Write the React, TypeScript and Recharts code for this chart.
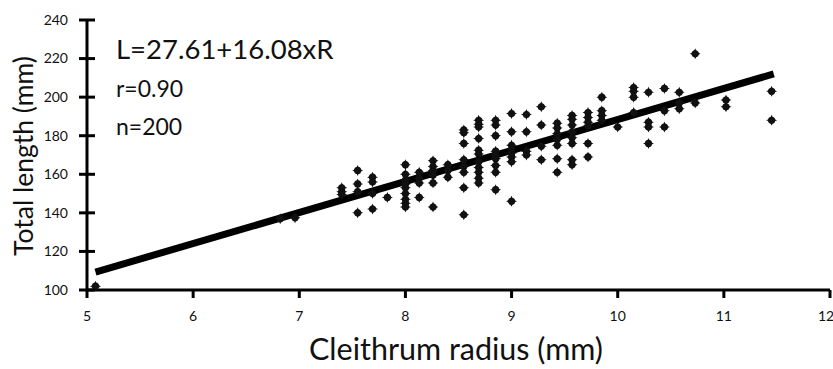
import { ReferenceLine, Scatter, ScatterChart, XAxis, YAxis } from "recharts";

// cleithrum radius columns (mm) and the total lengths (mm) read in each column
const radiusColumns = [
  5.08, 6.82, 6.96, 7.4, 7.55, 7.69, 7.83, 8.0, 8.13, 8.26, 8.4, 8.55, 8.69, 8.85, 9.0, 9.14, 9.28, 9.43,
  9.57, 9.72, 9.85, 10.0, 10.15, 10.29, 10.44, 10.58, 10.73, 11.02, 11.45,
];
const lengthsByColumn = [
  [102],
  [137],
  [137.5],
  [153, 151, 149.5],
  [162, 155, 151, 140],
  [158.5, 156, 150, 142],
  [148],
  [165, 160, 157, 155, 153, 150, 147, 145, 143],
  [161, 158, 155.5, 148],
  [167, 164, 162, 159.5, 155.5, 143],
  [165, 162, 158.5],
  [183, 181.5, 176, 167.5, 164, 161, 153, 139],
  [188, 186, 184.5, 178.5, 172.5, 170.5, 166.5, 163.5, 161, 158, 155.5],
  [188, 185.5, 180, 172, 170, 168, 164.5, 161, 152],
  [191.5, 182, 175, 173, 171, 169, 166.5, 146],
  [191, 182, 172, 170],
  [195, 185.5, 174.5, 167.5],
  [186.5, 184, 181, 178, 175, 168, 161],
  [190.5, 188.5, 185.5, 182, 179, 176, 167.5, 165],
  [192, 189.5, 187, 185, 176, 169],
  [200, 193, 190.5, 188],
  [184.5],
  [205, 203, 200, 192],
  [202.5, 187, 184.5, 176],
  [204.5, 193, 184.5],
  [202.5, 197, 194],
  [222.5, 197],
  [198.5, 195],
  [203, 188],
];

const radiusTicks = [5, 6, 7, 8, 9, 10, 11, 12];
const lengthTicks = [100, 120, 140, 160, 180, 200, 220, 240];

// regression L = a + b * R
const intercept = 27.61;
const slope = 16.08;
const fitRange = [5.08, 11.47];

const points = radiusColumns.flatMap((r, i) => lengthsByColumn[i].map((l) => ({ x: r, y: l })));
const fitSegment = fitRange.map((r) => ({ x: r, y: intercept + slope * r }));

const FONT = "Lato, 'Open Sans', sans-serif";
const INK = "#111";
const TICK_SIZE = 8;
const Y_TICK_MARGIN = 11;

function YTick(props: any) {
  const { x, y, payload } = props;
  const axisX = x + TICK_SIZE + Y_TICK_MARGIN;
  return (
    <g>
      <line x1={axisX} x2={axisX + TICK_SIZE} y1={y} y2={y} stroke="#000" strokeWidth={3} />
      <text x={x} y={y} dy="0.35em" textAnchor="end" fontSize={14} fontFamily={FONT} fill={INK}>
        {payload.value}
      </text>
    </g>
  );
}

function Dot(props: any) {
  const { cx, cy } = props;
  if (cx == null || cy == null) return null;
  const r = 5.5;
  const d = `M${cx},${cy - r} Q${cx + 1.3},${cy - 1.3} ${cx + r},${cy} Q${cx + 1.3},${cy + 1.3} ${cx},${cy + r} Q${cx - 1.3},${cy + 1.3} ${cx - r},${cy} Q${cx - 1.3},${cy - 1.3} ${cx},${cy - r}Z`;
  return (
    <g fill="#111">
      <circle cx={cx} cy={cy} r={3.6} />
      <path d={d} />
    </g>
  );
}

export default function App() {
  return (
    <div style={{ position: "absolute", left: 0, top: 0, width: 833, height: 369, background: "#fff" }}>
      <ScatterChart width={833} height={369} margin={{ top: 20, right: 3, bottom: 0, left: 0 }}>
        <XAxis
          type="number"
          dataKey="x"
          domain={[5, 12]}
          ticks={radiusTicks}
          height={79}
          allowDataOverflow
          axisLine={{ stroke: "#000", strokeWidth: 3 }}
          tickLine={{ stroke: "#000", strokeWidth: 3 }}
          tickSize={TICK_SIZE}
          tickMargin={13}
          tick={{ fontSize: 14, fontFamily: FONT, fill: INK }}
        />
        <YAxis
          type="number"
          dataKey="y"
          domain={[100, 240]}
          ticks={lengthTicks}
          width={87}
          allowDataOverflow
          axisLine={{ stroke: "#000", strokeWidth: 3 }}
          tickLine={{ stroke: "#000", strokeWidth: 3 }}
          tickSize={TICK_SIZE}
          tickMargin={Y_TICK_MARGIN}
          tick={<YTick />}
        />
        <Scatter data={points} shape={<Dot />} isAnimationActive={false} />
        <ReferenceLine segment={fitSegment} stroke="#000" strokeWidth={7} ifOverflow="visible" />
      </ScatterChart>
      <svg
        width={833}
        height={369}
        style={{ position: "absolute", left: 0, top: 0, pointerEvents: "none" }}
        fontFamily={FONT}
        fill={INK}
      >
        <text x={116} y={59} fontSize={27.5}>L=27.61+16.08xR</text>
        <text x={116} y={97} fontSize={23}>r=0.90</text>
        <text x={116} y={135} fontSize={23}>n=200</text>
        <text x={456} y={360} fontSize={30.5} textAnchor="middle">Cleithrum radius (mm)</text>
        <text x={33} y={156} fontSize={26.5} textAnchor="middle" transform="rotate(-90 33 156)">
          Total length (mm)
        </text>
      </svg>
    </div>
  );
}
